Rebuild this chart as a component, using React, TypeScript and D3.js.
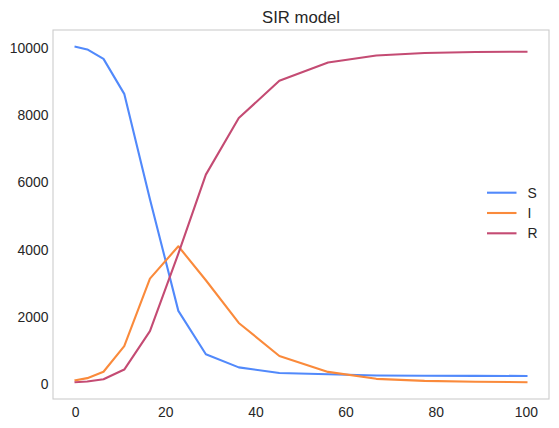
import React from "react";
import * as d3 from "d3";

const times = [0, 2.6, 6.2, 10.8, 16.5, 22.8, 28.9, 36.2, 45.2, 56, 66.7, 77.4, 88.7, 100];
const susceptible = [10030, 9950, 9670, 8630, 5500, 2180, 890, 500, 335, 295, 260, 250, 247, 246];
const infected = [120, 180, 370, 1130, 3140, 4100, 3090, 1820, 840, 366, 160, 100, 75, 60];
const recovered = [59, 80, 148, 436, 1580, 3880, 6230, 7910, 9020, 9560, 9770, 9846, 9875, 9884];
const seriesNames = ["S", "I", "R"];
const xTicks = [0, 20, 40, 60, 80, 100];
const yTicks = [0, 2000, 4000, 6000, 8000, 10000];
const title = "SIR model";

const COLORS = ["#5189fb", "#fa8a3b", "#c44b73"];
const W = 559;
const H = 428;
const M = { left: 53, right: 549, top: 30, bottom: 399 };
const FONT = "'Liberation Sans', Arial, sans-serif";
const TEXT = "#262626";

export default function App() {
  const allSeries = [susceptible, infected, recovered];
  const xExt = d3.extent(times) as [number, number];
  const xPad = (xExt[1] - xExt[0]) * 0.05;
  const x = d3.scaleLinear().domain([xExt[0] - xPad, xExt[1] + xPad]).range([M.left, M.right]);
  const allVals = allSeries.flat();
  const yExt = d3.extent(allVals) as [number, number];
  const yPad = (yExt[1] - yExt[0]) * 0.05;
  const y = d3.scaleLinear().domain([yExt[0] - yPad, yExt[1] + yPad]).range([M.bottom, M.top]);

  const line = d3
    .line<number>()
    .x((_, i) => x(times[i]))
    .y((d) => y(d));

  const legendX = 487;
  const legendY0 = 192.7;
  const legendStep = 20.3;

  return (
    <svg
      width={W}
      height={H}
      style={{ position: "fixed", left: 0, top: 0, display: "block", background: "#fff" }}
      fontFamily={FONT}
    >
      <rect x={0} y={0} width={W} height={H} fill="#fff" />
      <text x={(M.left + M.right) / 2} y={22.5} textAnchor="middle" fontSize={16.7} fill={TEXT}>
        {title}
      </text>
      {xTicks.map((t) => (
        <text key={"x" + t} x={x(t)} y={416.5} textAnchor="middle" fontSize={13.9} fill={TEXT}>
          {t}
        </text>
      ))}
      {yTicks.map((t) => (
        <text
          key={"y" + t}
          x={48.5}
          y={y(t)}
          dy="0.35em"
          textAnchor="end"
          fontSize={13.9}
          fill={TEXT}
        >
          {t}
        </text>
      ))}
      <g clipPath="url(#clip)">
        {allSeries.map((s, i) => (
          <path
            key={seriesNames[i]}
            d={line(s) || ""}
            fill="none"
            stroke={COLORS[i]}
            strokeWidth={2.1}
            strokeLinejoin="round"
            strokeLinecap="square"
          />
        ))}
      </g>
      <defs>
        <clipPath id="clip">
          <rect x={M.left} y={M.top} width={M.right - M.left} height={M.bottom - M.top} />
        </clipPath>
      </defs>
      <rect
        x={M.left}
        y={M.top}
        width={M.right - M.left}
        height={M.bottom - M.top}
        fill="none"
        stroke="#cccccc"
        strokeWidth={1.1}
      />
      {seriesNames.map((n, i) => (
        <g key={"leg" + n}>
          <line
            x1={legendX}
            x2={legendX + 29.5}
            y1={legendY0 + i * legendStep}
            y2={legendY0 + i * legendStep}
            stroke={COLORS[i]}
            strokeWidth={2.1}
          />
          <text
            x={527.5}
            y={legendY0 + i * legendStep}
            dy="0.35em"
            fontSize={13.9}
            fill={TEXT}
          >
            {n}
          </text>
        </g>
      ))}
    </svg>
  );
}
